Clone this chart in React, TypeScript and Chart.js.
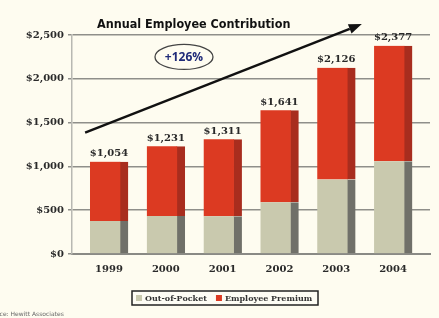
import React, { useEffect, useRef } from "react";
import { Chart, registerables } from "chart.js";

Chart.register(...registerables);

const years = ["1999", "2000", "2001", "2002", "2003", "2004"];
const outOfPocket = [377, 434, 430, 590, 850, 1060];
const totals = [1054, 1231, 1311, 1641, 2126, 2377];
const employeePremium = totals.map((t, i) => t - outOfPocket[i]);
const yTicks = [0, 500, 1000, 1500, 2000, 2500];
const seriesNames = ["Out-of-Pocket", "Employee Premium"];
const titleText = "Annual Employee Contribution";
const growthText = "+126%";
const sourceText = "Source: Hewitt Associates";
// trend arrow in data units (x index, y dollars)
const arrowFrom = { x: -0.42, y: 1385 };
const arrowTo = { x: 4.45, y: 2625 };
const ellipseAt = { x: 1.32, y: 2250 };

const BG = "#fefcf0";
const RED = "#dc3a22";
const RED_SIDE = "#a82d1e";
const BEIGE = "#c9c9ae";
const BEIGE_SIDE = "#707069";
const SERIF = "'DejaVu Serif', serif";

const decor = {
  id: "decor",
  beforeDraw(chart: any) {
    const { ctx, width, height } = chart;
    ctx.save();
    ctx.fillStyle = BG;
    ctx.fillRect(0, 0, width, height);
    ctx.restore();
  },
  afterDraw(chart: any) {
    const { ctx } = chart;
    const xs = chart.scales.x;
    const ys = chart.scales.y;
    ctx.save();
    // totals
    const meta = chart.getDatasetMeta(1);
    ctx.font = `bold 10px ${SERIF}`;
    ctx.fillStyle = "#2a2a2a";
    ctx.textAlign = "center";
    ctx.textBaseline = "bottom";
    meta.data.forEach((el: any, i: number) => {
      ctx.fillText("$" + totals[i].toLocaleString("en-US"), el.x, el.y - 3);
    });
    // arrow
    const x1 = xs.getPixelForValue(arrowFrom.x);
    const y1 = ys.getPixelForValue(arrowFrom.y);
    const x2 = xs.getPixelForValue(arrowTo.x);
    const y2 = ys.getPixelForValue(arrowTo.y);
    const ang = Math.atan2(y2 - y1, x2 - x1);
    const hl = 13;
    const hw = 5;
    const bx = x2 - hl * Math.cos(ang);
    const by = y2 - hl * Math.sin(ang);
    ctx.strokeStyle = "#111";
    ctx.lineWidth = 2.5;
    ctx.beginPath();
    ctx.moveTo(x1, y1);
    ctx.lineTo(bx, by);
    ctx.stroke();
    ctx.fillStyle = "#111";
    ctx.beginPath();
    ctx.moveTo(x2, y2);
    ctx.lineTo(bx + hw * Math.sin(ang), by - hw * Math.cos(ang));
    ctx.lineTo(bx - hw * Math.sin(ang), by + hw * Math.cos(ang));
    ctx.closePath();
    ctx.fill();
    // ellipse
    const ex = xs.getPixelForValue(ellipseAt.x);
    const ey = ys.getPixelForValue(ellipseAt.y);
    ctx.beginPath();
    ctx.ellipse(ex, ey, 29, 12.5, 0, 0, Math.PI * 2);
    ctx.strokeStyle = "#444";
    ctx.lineWidth = 1.3;
    ctx.stroke();
    ctx.font = "bold 12px 'Open Sans', sans-serif";
    ctx.fillStyle = "#1f2a78";
    ctx.textAlign = "center";
    ctx.textBaseline = "middle";
    ctx.fillText(growthText, ex, ey + 0.5);
    // title
    ctx.font = "bold 12.5px 'Liberation Sans Narrow', 'DejaVu Sans Condensed', sans-serif";
    ctx.fillStyle = "#111";
    ctx.textAlign = "left";
    ctx.textBaseline = "alphabetic";
    ctx.fillText(titleText, 97, 28);
    // legend
    const lx = 132, ly = 291, lw = 186, lh = 14;
    ctx.fillStyle = "#fdfcf4";
    ctx.fillRect(lx, ly, lw, lh);
    ctx.strokeStyle = "#222";
    ctx.lineWidth = 1.5;
    ctx.strokeRect(lx, ly, lw, lh);
    ctx.font = `bold 8px ${SERIF}`;
    ctx.textBaseline = "middle";
    const colors = [BEIGE, RED];
    let cx = lx + 4;
    seriesNames.forEach((name, i) => {
      ctx.fillStyle = colors[i];
      ctx.fillRect(cx, ly + 4, 6, 6);
      cx += 9;
      ctx.fillStyle = "#333";
      ctx.fillText(name, cx, ly + lh / 2 + 0.5);
      cx += ctx.measureText(name).width + 9;
    });
    // source
    ctx.font = "6px 'DejaVu Sans', sans-serif";
    ctx.fillStyle = "#666";
    ctx.textBaseline = "alphabetic";
    ctx.fillText(sourceText, -14, 316);
    ctx.restore();
  },
};

export default function App() {
  const ref = useRef<HTMLCanvasElement | null>(null);
  useEffect(() => {
    document.body.style.margin = "0";
    const canvas = ref.current!;
    const chart = new Chart(canvas, {
      type: "bar",
      data: {
        datasets: [
          {
            label: seriesNames[0],
            data: outOfPocket.map((v, i) => ({ x: i, y: v })),
            backgroundColor: BEIGE,
            borderColor: BEIGE_SIDE,
            borderWidth: { top: 0, left: 0, bottom: 0, right: 8 },
            borderSkipped: false,
            barThickness: 38,
          },
          {
            label: seriesNames[1],
            data: employeePremium.map((v, i) => ({ x: i, y: v })),
            backgroundColor: RED,
            borderColor: RED_SIDE,
            borderWidth: { top: 0, left: 0, bottom: 0, right: 8 },
            borderSkipped: false,
            barThickness: 38,
          },
        ],
      },
      options: {
        animation: false,
        responsive: false,
        devicePixelRatio: 1,
        layout: { padding: { top: 35, right: 9, left: 0, bottom: 0 } },
        plugins: { legend: { display: false }, tooltip: { enabled: false }, title: { display: false } },
        scales: {
          x: {
            type: "linear",
            stacked: true,
            offset: false,
            min: -0.651,
            max: 5.65,
            afterBuildTicks: (s: any) => {
              s.ticks = years.map((_, i) => ({ value: i }));
            },
            afterFit: (s: any) => {
              s.height = 64;
            },
            ticks: {
              callback: (v: any) => years[v] ?? "",
              font: { family: SERIF, weight: "bold", size: 10 },
              color: "#2a2a2a",
              padding: 1,
              maxRotation: 0,
              autoSkip: false,
            },
            grid: { display: false, offset: false },
            border: { color: "#8a8a85", width: 2 },
          },
          y: {
            stacked: true,
            min: 0,
            max: 2500,
            afterBuildTicks: (s: any) => {
              s.ticks = yTicks.map((v) => ({ value: v }));
            },
            afterFit: (s: any) => {
              s.width = 72;
            },
            ticks: {
              callback: (v: any) => "$" + Number(v).toLocaleString("en-US"),
              font: { family: SERIF, weight: "bold", size: 10 },
              color: "#2a2a2a",
              padding: 4,
            },
            grid: { color: "#8f8f8a", lineWidth: 1.5, tickLength: 4 },
            border: { color: "#b8b8b2", width: 1.5 },
          },
        },
      },
      plugins: [decor],
    } as any);
    return () => chart.destroy();
  }, []);
  return (
    <div style={{ width: 439, height: 318, position: "relative" }}>
      <canvas ref={ref} width={439} height={318} style={{ display: "block", width: 439, height: 318 }} />
    </div>
  );
}
